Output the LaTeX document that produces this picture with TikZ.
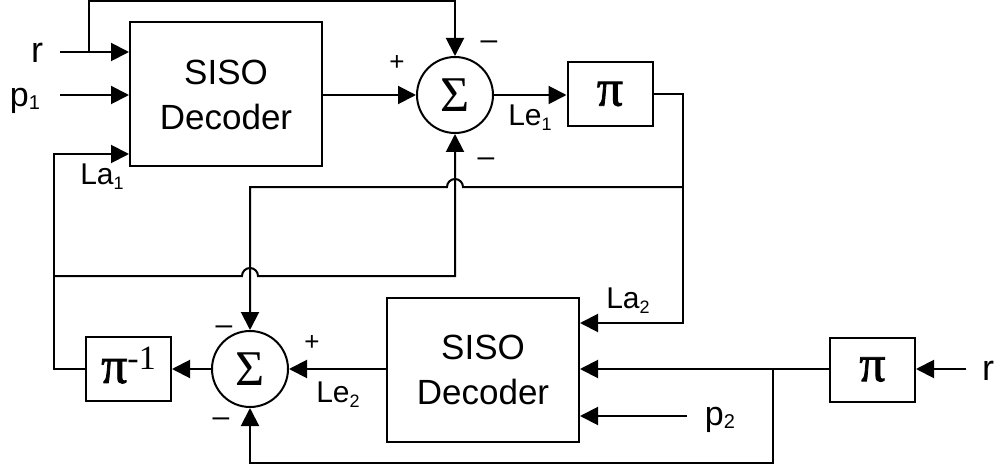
\documentclass[tikz,border=0pt]{standalone}
\usepackage{fontspec}
\setmainfont{Liberation Sans}
\newfontfamily\grk{Liberation Serif}
\newfontfamily\grkb[FakeBold=1.5]{Liberation Serif}
\usetikzlibrary{arrows.meta,calc}
\newcommand{\fsz}[1]{\fontsize{#1}{#1}\selectfont}
\newcommand{\dsub}[3]{\raisebox{-#1pt}{\fsz{#2}#3}}
\begin{document}
\begin{tikzpicture}[x=1pt,y=-1pt,line width=2pt,
  blk/.style={draw,rectangle,inner sep=0pt},
  dec/.style={blk,minimum width=192pt,minimum height=144pt,align=center,font=\fontsize{35}{45}\selectfont},
  perm/.style={blk,minimum width=85pt,minimum height=64pt,font=\grkb\fsz{52}},
  sumc/.style={draw,circle,inner sep=0pt,minimum size=76pt,font=\grk\fsz{50}},
  arr/.style={-{Triangle[length=18pt,width=18pt]}},
  lab/.style={inner sep=0pt,anchor=base},
  sgn/.style={inner sep=0pt,anchor=base,font=\fsz{30}},
  pls/.style={inner sep=0pt,anchor=base,font=\fsz{26}}]
\useasboundingbox (0,0) rectangle (996,468);
% blocks
\node[dec] (dec1) at (226,94.5) {SISO\\Decoder};
\node[sumc] (sum1) at (455,95) {Σ};
\node[perm] (pi1) at (610,94) {π};
\node[dec] (dec2) at (483,369.5) {SISO\\Decoder};
\node[sumc] (sum2) at (250,369) {Σ};
\node[perm] (pinv) at (128.5,369) {};
\node[inner sep=0pt,font=\grkb\fsz{52}] (pinvt) at ([yshift=3.5pt]pinv.center) {π\raisebox{13pt}{\grk\fsz{34}-1}};
\node[perm] (pi2) at (872.5,369.5) {π};
% helper coordinates
\coordinate (rin) at (60,52);
\coordinate (br1) at (89,52);
\coordinate (topy) at (0,1);
\coordinate (p1in) at (60,95);
\coordinate (la2) at (683,323);
\coordinate (midy) at (0,187);
\coordinate (lowy) at (0,276);
\coordinate (la1) at (54,154);
\coordinate (boty) at (0,463);
\coordinate (tapx) at (773,0);
\coordinate (r2in) at (966,369);
\coordinate (p2in) at (687,416);
% connectors, upper decoder
\draw[arr] (rin) -- (rin -| dec1.west);
\draw[arr] (br1) -- (br1 |- topy) -| (sum1.north);
\draw[arr] (p1in) -- (p1in -| dec1.west);
\draw[arr] (dec1.east |- sum1) -- (sum1.west);
\draw[arr] (sum1.east) -- (pi1.west |- sum1);
\draw[arr] (pi1.east) -| (la2) -- (la2 -| dec2.east);
\draw[arr] (la2 |- midy) -- ($(sum1.south |- midy)+(8,0)$)
  arc[start angle=0,end angle=180,radius=8pt] -- (sum2.north |- midy) -- (sum2.north);
% feedback to upper decoder
\draw[arr] (pinv.west) -| (la1) -- (la1 -| dec1.west);
\draw[arr] (la1 |- lowy) -- ($(sum2.north |- lowy)+(-8,0)$)
  arc[start angle=180,end angle=0,radius=8pt] -- (sum1.south |- lowy) -- (sum1.south);
% lower decoder
\draw[arr] (dec2.west |- sum2) -- (sum2.east);
\draw[arr] (sum2.west) -- (pinv.east |- sum2);
\draw[arr] (r2in) -- (r2in -| pi2.east);
\draw[arr] (pi2.west |- r2in) -- (dec2.east |- r2in);
\draw[arr] (tapx |- r2in) -- (tapx |- boty) -| (sum2.south);
\draw[arr] (p2in) -- (p2in -| dec2.east);
% labels
\node[lab,font=\fsz{36}] (lr1) at (37,63) {r};
\node[lab,font=\fsz{34}] (lp1) at (25,107) {p\dsub{3}{20}{1}};
\node[lab,font=\fsz{30}] (lla1) at (102,185) {La\dsub{5}{18}{1}};
\node[lab,font=\fsz{30}] (lle1) at (530,126) {Le\dsub{5}{18}{1}};
\node[lab,font=\fsz{30}] (lle2) at (338,402) {Le\dsub{5}{18}{2}};
\node[lab,font=\fsz{30}] (lla2) at (628,308) {La\dsub{5}{18}{2}};
\node[lab,font=\fsz{34}] (lp2) at (720,425) {p\dsub{3}{20}{2}};
\node[lab,font=\fsz{36}] (lr2) at (988,380) {r};
\node[pls] (s1) at (397,71) {+};
\node[sgn] (s2) at (489,50) {–};
\node[sgn] (s3) at (486,166) {–};
\node[sgn] (s4) at (224,334) {–};
\node[sgn] (s5) at (221,426) {–};
\node[pls] (s6) at (312,350) {+};
\end{tikzpicture}
\end{document}
